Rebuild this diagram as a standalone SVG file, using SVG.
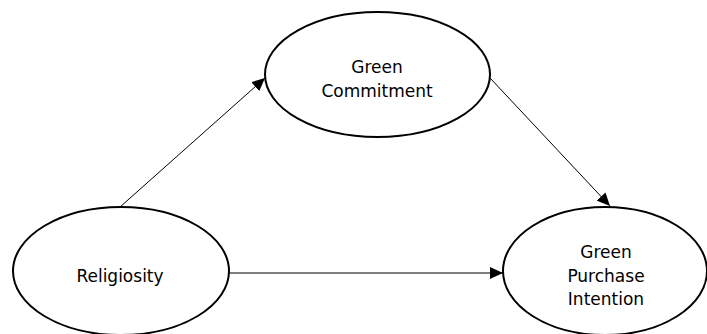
<svg xmlns="http://www.w3.org/2000/svg" width="707" height="334" viewBox="0 0 707 334">
<style>
.node ellipse{fill:#fff;stroke:#000;stroke-width:2}
.node text{font-family:"DejaVu Sans",Verdana,sans-serif;font-size:17px;fill:#000;text-anchor:middle}
.conn line{stroke:#000;stroke-width:1;fill:none}
</style>
<defs>
<marker id="arr" markerUnits="userSpaceOnUse" markerWidth="14" markerHeight="12" refX="13" refY="6" orient="auto">
<path d="M0,0 L13,6 L0,12 z" fill="#000"/>
</marker>
</defs>
<rect width="707" height="334" fill="#fff"/>
<g id="connectors" class="conn">
<line x1="120" y1="207" x2="265" y2="78" marker-end="url(#arr)"/>
<line x1="490" y1="78" x2="610" y2="206" marker-end="url(#arr)"/>
<line x1="229" y1="273" x2="503" y2="273" marker-end="url(#arr)"/>
</g>
<g id="green-commitment" class="node">
<ellipse cx="377.5" cy="74.5" rx="112.5" ry="62.5"/>
<text x="377" y="73">Green</text>
<text x="377" y="97">Commitment</text>
</g>
<g id="religiosity" class="node">
<ellipse cx="121" cy="271" rx="108" ry="64"/>
<text x="120" y="282">Religiosity</text>
</g>
<g id="green-purchase-intention" class="node">
<ellipse cx="605" cy="271" rx="102" ry="64"/>
<text x="606" y="258">Green</text>
<text x="606" y="282">Purchase</text>
<text x="606" y="305">Intention</text>
</g>
</svg>
